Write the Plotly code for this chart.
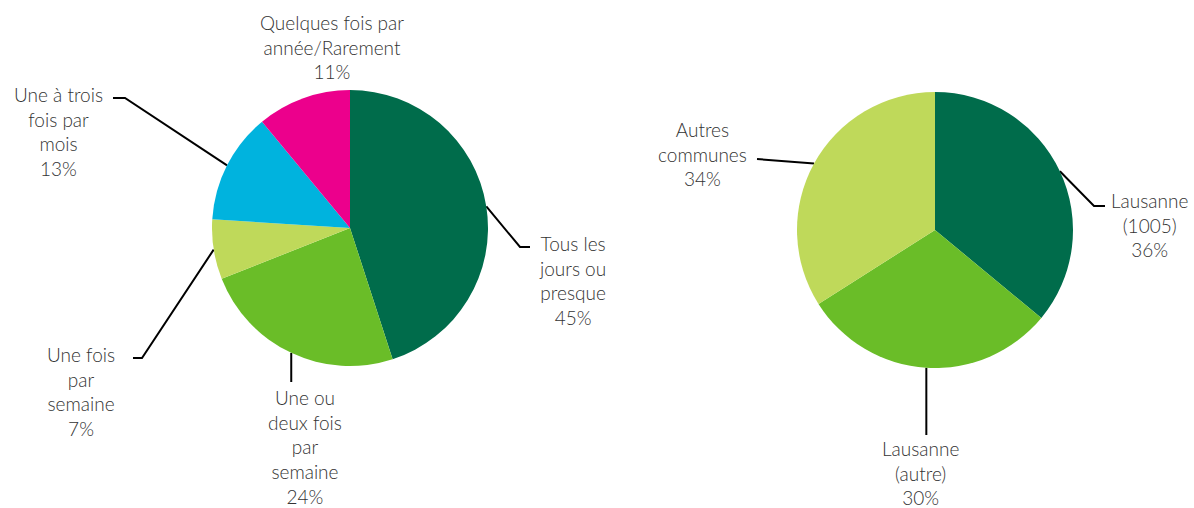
import math
import plotly.graph_objects as go

W, H = 1194, 508

# left pie: frequency
freq_labels = ["Tous les<br>jours ou<br>presque", "Une ou<br>deux fois<br>par<br>semaine",
               "Une fois<br>par<br>semaine", "Une à trois<br>fois par<br>mois",
               "Quelques fois par<br>année/Rarement"]
freq_values = [45, 24, 7, 13, 11]
freq_colors = ["#006c4b", "#6abd28", "#bfd95a", "#00b3de", "#ec008c"]

# right pie: commune
commune_labels = ["Lausanne<br>(1005)", "Lausanne<br>(autre)", "Autres<br>communes"]
commune_values = [36, 30, 34]
commune_colors = ["#006c4b", "#6abd28", "#bfd95a"]

# layout (pixels): pie centre, radius, label centres, leader elbows/ends
R = 138
left_c = (350, 228)
right_c = (935, 230)
freq_text_pos = [(572, 280), (305, 447), (81, 391), (58, 131), (332, 47)]
freq_leader = [[(520, 247), (530, 247)], [None, 382], [(142, 358), (133, 358)],
               [(125, 98), (113, 98)], None]
commune_text_pos = [(1149, 225), (920, 473), (702, 154)]
commune_leader = [[(1094, 206), (1105, 206)], [None, 435], [(757, 159)]]

font = dict(family="Lato, 'Open Sans', sans-serif", size=19, color="#333333", weight=300)

fig = go.Figure()


def add_pie(values, colors, centre):
    cx, cy = centre
    fig.add_trace(go.Pie(
        values=values, sort=False, direction="clockwise", rotation=0,
        marker=dict(colors=colors, line=dict(width=0)),
        textinfo="none", hoverinfo="percent", showlegend=False,
        domain=dict(x=[(cx - R) / W, (cx + R) / W],
                    y=[1 - (cy + R) / H, 1 - (cy - R) / H]),
    ))


def add_labels(labels, values, centre, text_pos, leaders):
    cx, cy = centre
    total = sum(values)
    acc = 0
    for lab, v, (tx, ty), ld in zip(labels, values, text_pos, leaders):
        mid = (acc + v / 2) / total * 2 * math.pi
        acc += v
        ex, ey = cx + R * math.sin(mid), cy - R * math.cos(mid)
        if ld is not None:
            xs, ys = [ex], [ey]
            if ld[0] is None:  # straight vertical drop
                xs.append(ex)
                ys.append(ld[1])
            else:
                for px, py in ld:
                    xs.append(px)
                    ys.append(py)
            fig.add_trace(go.Scatter(x=xs, y=ys, mode="lines", hoverinfo="skip",
                                     line=dict(color="black", width=2),
                                     showlegend=False))
        fig.add_annotation(x=tx, y=ty, text=f"{lab}<br>{v}%", showarrow=False,
                           xanchor="center", yanchor="middle", align="center",
                           font=font)


add_labels(freq_labels, freq_values, left_c, freq_text_pos, freq_leader)
add_labels(commune_labels, commune_values, right_c, commune_text_pos, commune_leader)
add_pie(freq_values, freq_colors, left_c)
add_pie(commune_values, commune_colors, right_c)

fig.update_layout(
    width=W, height=H,
    margin=dict(l=0, r=0, t=0, b=0),
    paper_bgcolor="white", plot_bgcolor="white",
    xaxis=dict(range=[0, W], visible=False, fixedrange=True),
    yaxis=dict(range=[H, 0], visible=False, fixedrange=True),
)

# drop the default 8px page margin so the figure fills the window
fig.write_html("out.html", config={"displayModeBar": False},
               post_script="document.body.style.margin='0';")
